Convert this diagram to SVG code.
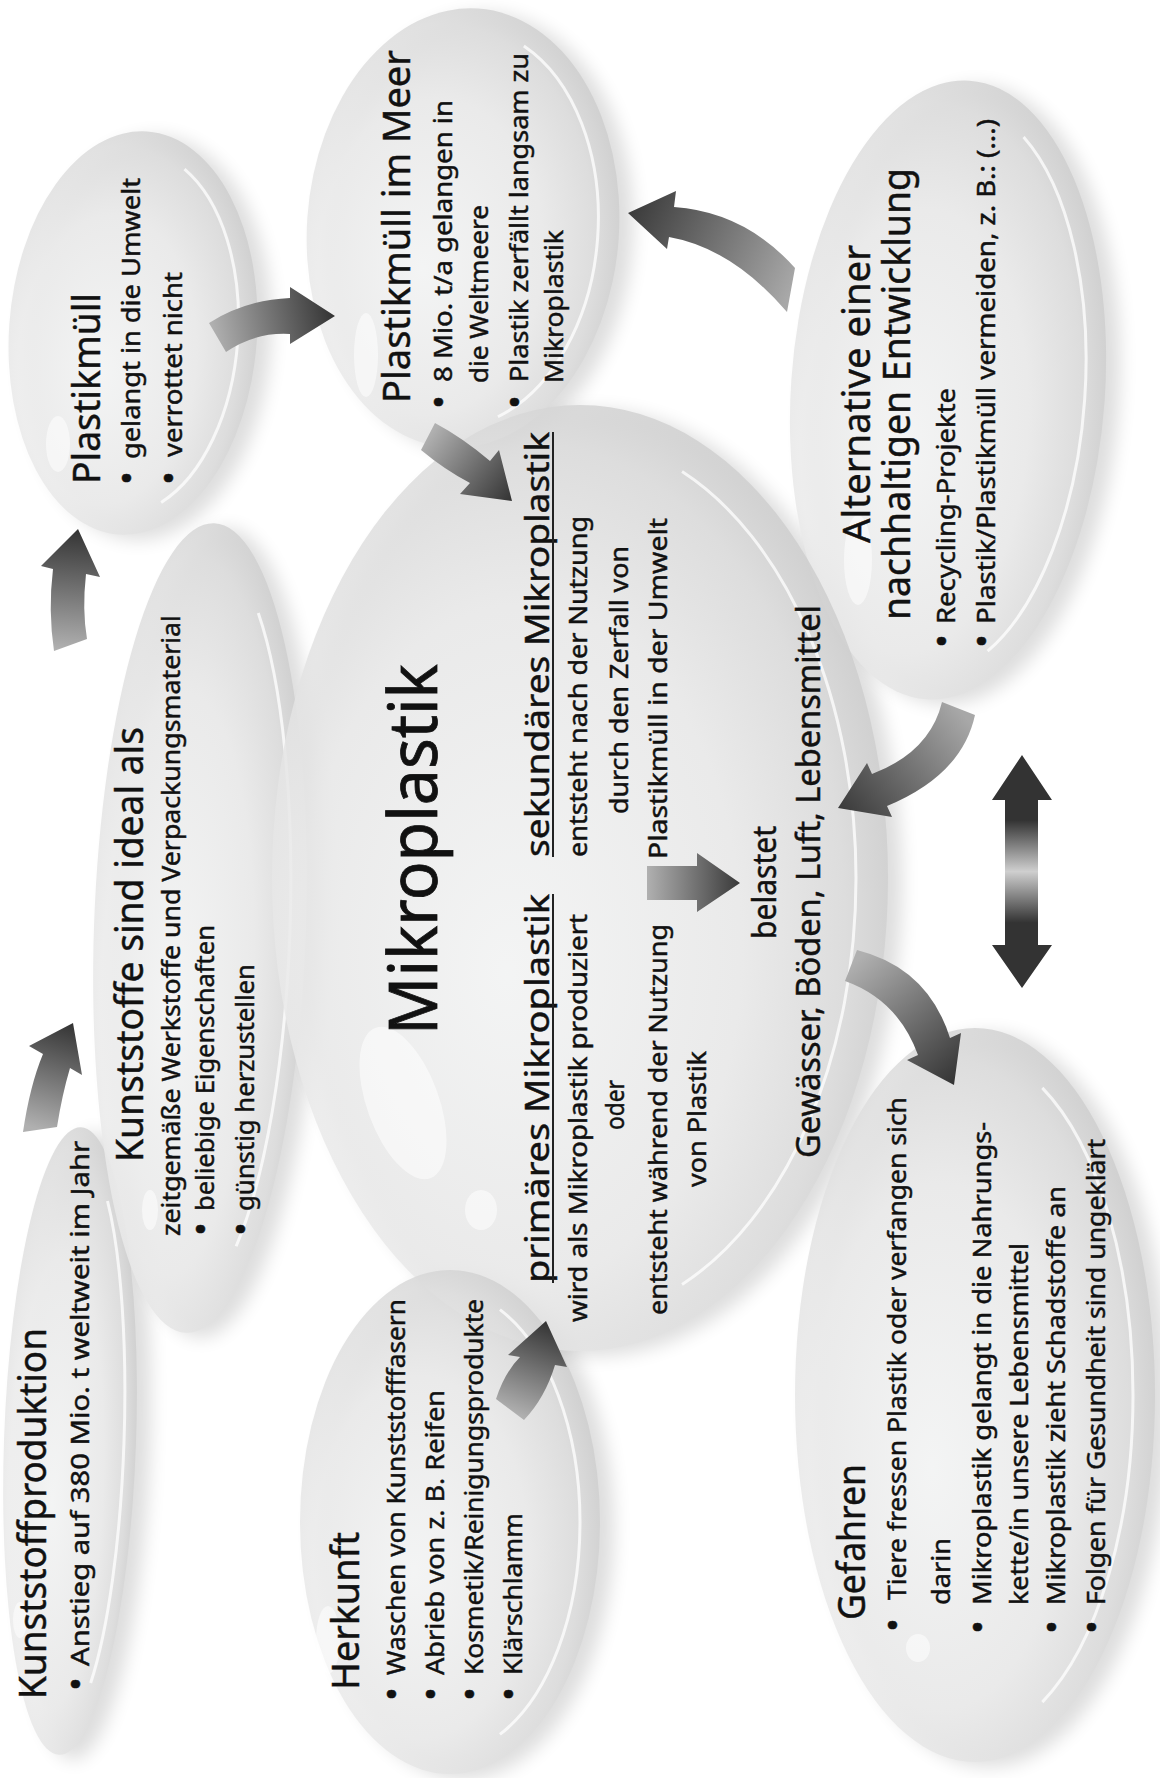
<svg xmlns="http://www.w3.org/2000/svg" width="1160" height="1778" viewBox="0 0 1160 1778">
<style>
text{font-family:"Noto Sans","Open Sans","Liberation Sans",sans-serif;fill:#111;stroke:#111;stroke-width:0.45}
.t{font-size:39px}
.s{font-size:25px}
.b{font-size:36px}
.h{font-size:33px}
.big{font-size:68px;stroke-width:0.8}
.bub{fill:url(#bg);fill-opacity:0.86}
.sh{fill:#000;opacity:0.13;filter:url(#blur)}
.rim{fill:none;stroke:#fff;stroke-opacity:0.75;stroke-width:3;stroke-dasharray:20 60 20 0}
.gl{fill:#fff;opacity:0.55}
.ul{stroke:#222;stroke-width:2}
</style>
<defs>
<radialGradient id="bg" cx="0.42" cy="0.55" r="0.6" fx="0.38" fy="0.6">
<stop offset="0" stop-color="#f7f8f8"/>
<stop offset="0.6" stop-color="#ececec"/>
<stop offset="0.86" stop-color="#dddddd"/>
<stop offset="1" stop-color="#cdcdcd"/>
</radialGradient>
<filter id="blur" x="-30%" y="-30%" width="160%" height="160%"><feGaussianBlur stdDeviation="9"/></filter>
<linearGradient id="g1" gradientUnits="userSpaceOnUse" x1="40" y1="1130" x2="73" y2="1023"><stop offset="0" stop-color="#b0b0b0"/><stop offset="1" stop-color="#333"/></linearGradient>
<linearGradient id="g2" gradientUnits="userSpaceOnUse" x1="70" y1="650" x2="78" y2="529"><stop offset="0" stop-color="#b0b0b0"/><stop offset="1" stop-color="#333"/></linearGradient>
<linearGradient id="g3" gradientUnits="userSpaceOnUse" x1="215" y1="340" x2="335" y2="316"><stop offset="0" stop-color="#b0b0b0"/><stop offset="1" stop-color="#333"/></linearGradient>
<linearGradient id="g4" gradientUnits="userSpaceOnUse" x1="428" y1="437" x2="512" y2="501"><stop offset="0" stop-color="#b0b0b0"/><stop offset="1" stop-color="#333"/></linearGradient>
<linearGradient id="g5" gradientUnits="userSpaceOnUse" x1="791" y1="290" x2="628" y2="212"><stop offset="0" stop-color="#a8a8a8"/><stop offset="1" stop-color="#3a3a3a"/></linearGradient>
<linearGradient id="g6" gradientUnits="userSpaceOnUse" x1="958" y1="708" x2="838" y2="808"><stop offset="0" stop-color="#a8a8a8"/><stop offset="1" stop-color="#3a3a3a"/></linearGradient>
<linearGradient id="g7" gradientUnits="userSpaceOnUse" x1="851" y1="965" x2="954" y2="1085"><stop offset="0" stop-color="#b0b0b0"/><stop offset="1" stop-color="#333"/></linearGradient>
<linearGradient id="g8" gradientUnits="userSpaceOnUse" x1="0" y1="755" x2="0" y2="988"><stop offset="0" stop-color="#333"/><stop offset="0.28" stop-color="#333"/><stop offset="0.5" stop-color="#cfcfcf"/><stop offset="0.72" stop-color="#333"/><stop offset="1" stop-color="#333"/></linearGradient>
<linearGradient id="g9" gradientUnits="userSpaceOnUse" x1="647" y1="0" x2="740" y2="0"><stop offset="0" stop-color="#b0b0b0"/><stop offset="1" stop-color="#3a3a3a"/></linearGradient>
<linearGradient id="g10" gradientUnits="userSpaceOnUse" x1="510" y1="1412" x2="546" y2="1321"><stop offset="0" stop-color="#b0b0b0"/><stop offset="1" stop-color="#333"/></linearGradient>
</defs>
<rect width="1160" height="1778" fill="#fff"/>

<g id="shadows">
<ellipse class="sh" cx="147" cy="338" rx="124" ry="202" transform="rotate(4 147 338)"/>
<ellipse class="sh" cx="477" cy="233" rx="156" ry="220" transform="rotate(4 477 233)"/>
<ellipse class="sh" cx="962" cy="395" rx="157" ry="310" transform="rotate(4 962 395)"/>
<ellipse class="sh" cx="214" cy="933" rx="106" ry="405" transform="rotate(2 214 933)"/>
<ellipse class="sh" cx="84" cy="1446" rx="66" ry="314" transform="rotate(2 84 1446)"/>
<ellipse class="sh" cx="594" cy="883" rx="308" ry="473"/>
<ellipse class="sh" cx="464" cy="1527" rx="150" ry="252"/>
<ellipse class="sh" cx="989" cy="1400" rx="180" ry="367"/>
</g>

<g id="kunststoffproduktion">
<ellipse class="bub" cx="70" cy="1441" rx="66" ry="314" transform="rotate(2 70 1441)"/>
<ellipse class="rim" pathLength="100" cx="68" cy="1441" rx="56" ry="290" transform="rotate(2 70 1441)"/>
<ellipse class="gl" cx="20" cy="1620" rx="7" ry="18"/>
<g transform="rotate(-90)">
<text class="t" x="-1699" y="46" textLength="371" lengthAdjust="spacingAndGlyphs">Kunststoffproduktion</text>
<text class="b" x="-1684" y="89" text-anchor="middle">•</text>
<text class="s" x="-1666" y="89" textLength="525" lengthAdjust="spacingAndGlyphs">Anstieg auf 380 Mio. t weltweit im Jahr</text>
</g>
</g>

<g id="kunststoffe">
<ellipse class="bub" cx="200" cy="928" rx="106" ry="405" transform="rotate(2 200 928)"/>
<ellipse class="rim" pathLength="100" cx="198" cy="928" rx="92" ry="375" transform="rotate(2 200 928)"/>
<ellipse class="gl" cx="150" cy="1210" rx="8" ry="20"/>
<g transform="rotate(-90)">
<text class="t" x="-1162" y="143" textLength="435" lengthAdjust="spacingAndGlyphs">Kunststoffe sind ideal als</text>
<text class="s" x="-1236" y="180" textLength="621" lengthAdjust="spacingAndGlyphs">zeitgemäße Werkstoffe und Verpackungsmaterial</text>
<text class="b" x="-1229" y="214" text-anchor="middle">•</text>
<text class="s" x="-1211" y="214" textLength="286" lengthAdjust="spacingAndGlyphs">beliebige Eigenschaften</text>
<text class="b" x="-1229" y="254" text-anchor="middle">•</text>
<text class="s" x="-1211" y="254" textLength="247" lengthAdjust="spacingAndGlyphs">günstig herzustellen</text>
</g>
</g>

<g id="plastikmuell">
<ellipse class="bub" cx="133" cy="333" rx="124" ry="202" transform="rotate(4 133 333)"/>
<ellipse class="rim" pathLength="100" cx="130" cy="333" rx="108" ry="182" transform="rotate(4 133 333)"/>
<ellipse class="gl" cx="58" cy="444" rx="12" ry="28"/>
<g transform="rotate(-90)">
<text class="t" x="-484" y="100" textLength="191" lengthAdjust="spacingAndGlyphs">Plastikmüll</text>
<text class="b" x="-478" y="140" text-anchor="middle">•</text>
<text class="s" x="-459" y="140" textLength="281" lengthAdjust="spacingAndGlyphs">gelangt in die Umwelt</text>
<text class="b" x="-478" y="182" text-anchor="middle">•</text>
<text class="s" x="-457" y="182" textLength="185" lengthAdjust="spacingAndGlyphs">verrottet nicht</text>
</g>
</g>

<g id="meer">
<ellipse class="bub" cx="463" cy="228" rx="156" ry="220" transform="rotate(4 463 228)"/>
<ellipse class="rim" pathLength="100" cx="460" cy="228" rx="138" ry="200" transform="rotate(4 463 228)"/>
<ellipse class="gl" cx="366" cy="355" rx="12" ry="42"/>
<g transform="rotate(-90)">
<text class="t" x="-403" y="410" textLength="353" lengthAdjust="spacingAndGlyphs">Plastikmüll im Meer</text>
<text class="b" x="-402" y="452" text-anchor="middle">•</text>
<text class="s" x="-382" y="452" textLength="282" lengthAdjust="spacingAndGlyphs">8 Mio. t/a gelangen in</text>
<text class="s" x="-383" y="488" textLength="178" lengthAdjust="spacingAndGlyphs">die Weltmeere</text>
<text class="b" x="-402" y="528" text-anchor="middle">•</text>
<text class="s" x="-382" y="528" textLength="329" lengthAdjust="spacingAndGlyphs">Plastik zerfällt langsam zu</text>
<text class="s" x="-383" y="563" textLength="153" lengthAdjust="spacingAndGlyphs">Mikroplastik</text>
</g>
</g>

<g id="alternative">
<ellipse class="bub" cx="948" cy="390" rx="157" ry="310" transform="rotate(4 948 390)"/>
<ellipse class="rim" pathLength="100" cx="945" cy="390" rx="140" ry="286" transform="rotate(4 948 390)"/>
<ellipse class="gl" cx="858" cy="560" rx="14" ry="45"/>
<g transform="rotate(-90)">
<text class="t" x="-543" y="870" textLength="298" lengthAdjust="spacingAndGlyphs">Alternative einer</text>
<text class="t" x="-620" y="910" textLength="452" lengthAdjust="spacingAndGlyphs">nachhaltigen Entwicklung</text>
<text class="b" x="-641" y="955" text-anchor="middle">•</text>
<text class="s" x="-624" y="955" textLength="236" lengthAdjust="spacingAndGlyphs">Recycling-Projekte</text>
<text class="b" x="-641" y="995" text-anchor="middle">•</text>
<text class="s" x="-624" y="995" textLength="505" lengthAdjust="spacingAndGlyphs">Plastik/Plastikmüll vermeiden, z. B.: (...)</text>
</g>
</g>

<g id="mikroplastik">
<ellipse class="bub" cx="580" cy="878" rx="308" ry="473"/>
<ellipse class="rim" pathLength="100" cx="574" cy="878" rx="282" ry="440"/>
<ellipse class="gl" cx="403" cy="1103" rx="36" ry="80" transform="rotate(-20 403 1103)"/>
<ellipse class="gl" cx="481" cy="1210" rx="16" ry="20"/>
<g transform="rotate(-90)">
<text class="big" x="-1035" y="437" textLength="371" lengthAdjust="spacingAndGlyphs">Mikroplastik</text>
<text class="h" x="-1283" y="549" textLength="389" lengthAdjust="spacingAndGlyphs">primäres Mikroplastik</text>
<text class="h" x="-857" y="549" textLength="425" lengthAdjust="spacingAndGlyphs">sekundäres Mikroplastik</text>
<text class="s" x="-1322" y="587" textLength="408" lengthAdjust="spacingAndGlyphs">wird als Mikroplastik produziert</text>
<text class="s" x="-1130" y="624" textLength="50" lengthAdjust="spacingAndGlyphs">oder</text>
<text class="s" x="-1315" y="667" textLength="391" lengthAdjust="spacingAndGlyphs">entsteht während der Nutzung</text>
<text class="s" x="-1187" y="706" textLength="136" lengthAdjust="spacingAndGlyphs">von Plastik</text>
<text class="s" x="-857" y="587" textLength="341" lengthAdjust="spacingAndGlyphs">entsteht nach der Nutzung</text>
<text class="s" x="-814" y="628" textLength="268" lengthAdjust="spacingAndGlyphs">durch den Zerfall von</text>
<text class="s" x="-859" y="667" textLength="341" lengthAdjust="spacingAndGlyphs">Plastikmüll in der Umwelt</text>
<text class="h" x="-939" y="776" textLength="113" lengthAdjust="spacingAndGlyphs">belastet</text>
<text class="h" x="-1158" y="820" textLength="553" lengthAdjust="spacingAndGlyphs">Gewässer, Böden, Luft, Lebensmittel</text>
</g>
<line class="ul" x1="553" y1="1283" x2="553" y2="894"/>
<line class="ul" x1="553" y1="857" x2="553" y2="432"/>
</g>

<g id="herkunft">
<ellipse class="bub" cx="450" cy="1522" rx="150" ry="252"/>
<ellipse class="rim" pathLength="100" cx="446" cy="1522" rx="134" ry="232"/>
<ellipse class="gl" cx="328" cy="1640" rx="12" ry="34"/>
<g transform="rotate(-90)">
<text class="t" x="-1690" y="359" textLength="158" lengthAdjust="spacingAndGlyphs">Herkunft</text>
<text class="b" x="-1694" y="405" text-anchor="middle">•</text>
<text class="s" x="-1675" y="405" textLength="376" lengthAdjust="spacingAndGlyphs">Waschen von Kunststofffasern</text>
<text class="b" x="-1694" y="444" text-anchor="middle">•</text>
<text class="s" x="-1675" y="444" textLength="285" lengthAdjust="spacingAndGlyphs">Abrieb von z. B. Reifen</text>
<text class="b" x="-1694" y="483" text-anchor="middle">•</text>
<text class="s" x="-1675" y="483" textLength="376" lengthAdjust="spacingAndGlyphs">Kosmetik/Reinigungsprodukte</text>
<text class="b" x="-1694" y="522" text-anchor="middle">•</text>
<text class="s" x="-1675" y="522" textLength="162" lengthAdjust="spacingAndGlyphs">Klärschlamm</text>
</g>
</g>

<g id="gefahren">
<ellipse class="bub" cx="975" cy="1395" rx="180" ry="367"/>
<ellipse class="rim" pathLength="100" cx="971" cy="1395" rx="162" ry="342"/>
<ellipse class="gl" cx="918" cy="1648" rx="12" ry="14"/>
<g transform="rotate(-90)">
<text class="t" x="-1620" y="865" textLength="156" lengthAdjust="spacingAndGlyphs">Gefahren</text>
<text class="b" x="-1625" y="906" text-anchor="middle">•</text>
<text class="s" x="-1600" y="906" textLength="503" lengthAdjust="spacingAndGlyphs">Tiere fressen Plastik oder verfangen sich</text>
<text class="s" x="-1605" y="950" textLength="67" lengthAdjust="spacingAndGlyphs">darin</text>
<text class="b" x="-1627" y="991" text-anchor="middle">•</text>
<text class="s" x="-1605" y="991" textLength="483" lengthAdjust="spacingAndGlyphs">Mikroplastik gelangt in die Nahrungs-</text>
<text class="s" x="-1605" y="1028" textLength="362" lengthAdjust="spacingAndGlyphs">kette/in unsere Lebensmittel</text>
<text class="b" x="-1627" y="1065" text-anchor="middle">•</text>
<text class="s" x="-1605" y="1065" textLength="419" lengthAdjust="spacingAndGlyphs">Mikroplastik zieht Schadstoffe an</text>
<text class="b" x="-1627" y="1105" text-anchor="middle">•</text>
<text class="s" x="-1605" y="1105" textLength="466" lengthAdjust="spacingAndGlyphs">Folgen für Gesundheit sind ungeklärt</text>
</g>
</g>

<g id="connectors">
<path fill="url(#g1)" d="M23,1132 Q30,1085 43,1054 L29,1046 L73,1023 L82,1075 L70,1068 Q62,1095 57,1127 Z"/>
<path fill="url(#g2)" d="M54,651 Q48,610 53,569 L41,566 L78,529 L100,577 L86,574 Q82,610 87,639 Z"/>
<path fill="url(#g3)" d="M209,323 Q245,300 290,298 L290,287 L335,316 L290,344 L290,334 Q255,332 226,352 Z"/>
<path fill="url(#g4)" d="M421,450 Q445,470 470,483 L460,494 L512,501 L499,450 L490,461 Q463,438 435,423 Z"/>
<path fill="url(#g5)" d="M795,268 Q745,212 674,207 L676,191 L628,213 L667,249 L669,237 Q732,248 787,312 Z"/>
<path fill="url(#g6)" d="M942,702 Q930,752 872,774 L867,763 L838,808 L892,817 L887,806 Q962,775 975,715 Z"/>
<path fill="url(#g7)" d="M845,981 Q898,1000 918,1055 L907,1060 L954,1085 L961,1033 L950,1038 Q928,968 857,950 Z"/>
<path fill="url(#g8)" d="M1022,755 L1052,800 L1038,800 L1038,945 L1052,945 L1022,988 L992,945 L1005,945 L1005,800 L992,800 Z"/>
<path fill="url(#g9)" d="M647,866 L697,866 L697,853 L740,883 L697,912 L697,900 L647,900 Z"/>
<path fill="url(#g10)" d="M496,1399 Q505,1372 520,1357 L508,1355 L546,1321 L567,1367 L555,1365 Q545,1398 524,1420 Z"/>
</g>
</svg>
